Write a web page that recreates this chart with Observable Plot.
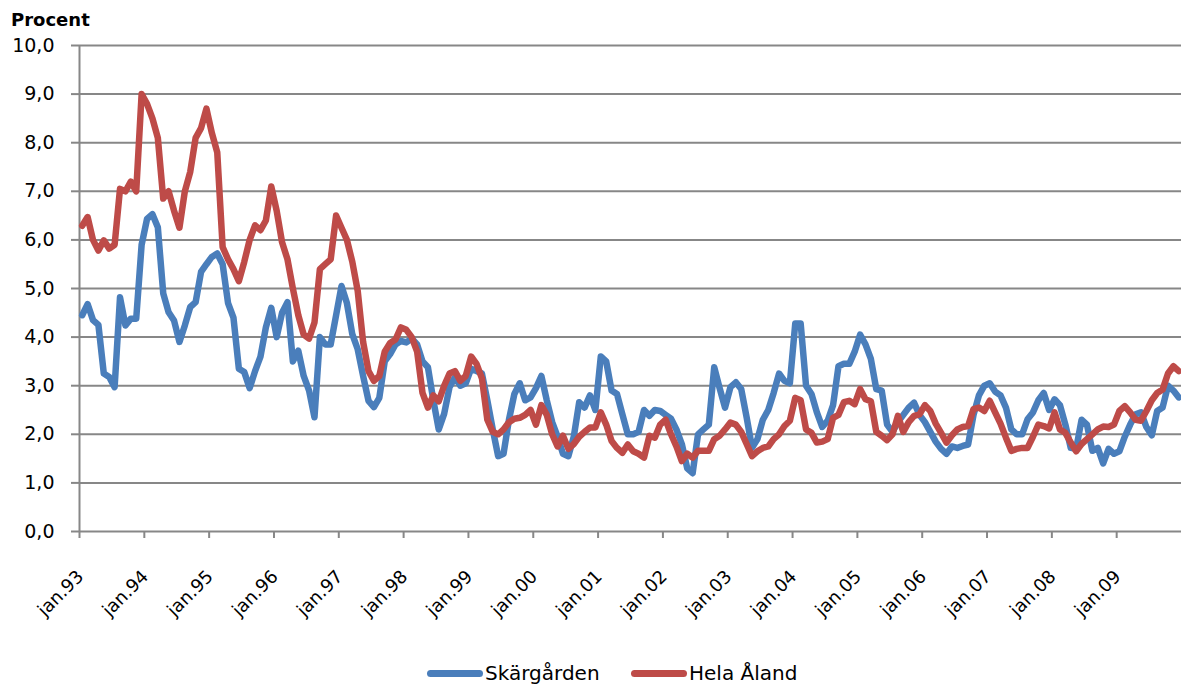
<!DOCTYPE html>
<html><head><meta charset="utf-8">
<script src="https://cdn.jsdelivr.net/npm/d3@7"></script>
<script src="https://cdn.jsdelivr.net/npm/@observablehq/plot@0.6"></script>
<style>
body{margin:0;background:#fff;font-family:"DejaVu Sans",sans-serif;}
#wrap{position:relative;width:1181px;height:688px;overflow:hidden;}
#title{position:absolute;left:11px;top:9px;font-weight:bold;font-size:18px;line-height:22px;color:#000;}
.item{position:absolute;top:661px;display:flex;align-items:center;font-size:20px;line-height:24px;color:#000;white-space:nowrap;}
.sw{display:inline-block;width:56px;height:7px;border-radius:3.5px;margin-right:2px;}
</style></head><body>
<div id="wrap"><div id="chart"></div><div id="title">Procent</div>
<div class="item" style="left:427px"><span class="sw" style="background:#4a7ebb"></span><span>Skärgården</span></div>
<div class="item" style="left:631px"><span class="sw" style="background:#be4b48"></span><span>Hela Åland</span></div>
</div>
<script>
const yearLabels = ["jan.93","jan.94","jan.95","jan.96","jan.97","jan.98","jan.99","jan.00","jan.01","jan.02","jan.03","jan.04","jan.05","jan.06","jan.07","jan.08","jan.09"];
const yTicks = [0,1,2,3,4,5,6,7,8,9,10];
const seriesNames = ["Skärgården","Hela Åland"];
const seriesColors = ["#4a7ebb","#be4b48"];
// Monthly values, Jan 1993 .. Dec 2009
const skargarden = [
4.45,4.68,4.35,4.25,3.25,3.18,2.97,4.82,4.24,4.38,4.38,5.9,
6.43,6.53,6.26,4.9,4.51,4.34,3.9,4.24,4.62,4.72,5.34,5.5,
5.65,5.72,5.5,4.7,4.4,3.35,3.28,2.95,3.3,3.6,4.2,4.6,
4.0,4.5,4.72,3.5,3.72,3.2,2.9,2.35,4.0,3.85,3.85,4.45,
5.05,4.7,4.06,3.75,3.2,2.69,2.56,2.75,3.5,3.65,3.85,3.92,
3.89,3.97,3.85,3.5,3.38,2.7,2.1,2.42,2.97,3.17,3.0,3.05,
3.35,3.3,3.25,2.7,2.1,1.55,1.6,2.3,2.83,3.05,2.7,2.76,
2.95,3.2,2.7,2.25,1.95,1.6,1.55,1.95,2.66,2.55,2.8,2.5,
3.6,3.5,2.9,2.83,2.41,2.0,2.0,2.05,2.5,2.38,2.5,2.48,
2.4,2.32,2.1,1.8,1.3,1.2,2.0,2.1,2.2,3.38,2.95,2.55,
2.97,3.07,2.93,2.35,1.72,1.9,2.3,2.5,2.85,3.25,3.1,3.05,
4.28,4.28,3.0,2.83,2.45,2.15,2.28,2.6,3.4,3.45,3.45,3.7,
4.05,3.85,3.55,2.93,2.9,2.2,2.05,2.25,2.4,2.55,2.65,2.4,
2.25,2.05,1.85,1.7,1.6,1.75,1.72,1.76,1.79,2.4,2.8,3.0,
3.05,2.88,2.8,2.55,2.1,2.0,2.0,2.31,2.45,2.7,2.85,2.5,
2.72,2.6,2.2,1.72,1.7,2.3,2.2,1.66,1.72,1.4,1.7,1.6,
1.65,1.95,2.2,2.41,2.45,2.15,1.98,2.48,2.55,3.0,2.9,2.76
];
const helaAland = [
6.29,6.47,6.0,5.78,5.99,5.82,5.9,7.05,7.0,7.2,7.0,9.0,
8.8,8.5,8.1,6.85,7.0,6.6,6.25,7.0,7.4,8.1,8.3,8.7,
8.2,7.8,5.85,5.6,5.4,5.15,5.55,6.0,6.3,6.2,6.4,7.1,
6.6,5.95,5.6,5.0,4.45,4.05,3.97,4.3,5.4,5.5,5.6,6.5,
6.25,6.0,5.55,4.95,3.9,3.3,3.1,3.2,3.7,3.88,3.95,4.2,
4.15,4.0,3.7,2.85,2.55,2.8,2.68,3.0,3.25,3.3,3.1,3.2,
3.6,3.45,3.15,2.3,2.05,2.0,2.1,2.25,2.32,2.34,2.4,2.5,
2.2,2.6,2.4,2.0,1.75,1.97,1.7,1.8,1.95,2.05,2.14,2.14,
2.45,2.2,1.86,1.72,1.62,1.79,1.65,1.6,1.52,1.97,1.93,2.2,
2.3,2.0,1.75,1.45,1.6,1.52,1.66,1.66,1.66,1.9,1.97,2.1,
2.24,2.2,2.05,1.8,1.55,1.65,1.72,1.75,1.9,2.0,2.17,2.28,
2.75,2.7,2.1,2.03,1.83,1.85,1.9,2.34,2.4,2.66,2.69,2.62,
2.93,2.72,2.68,2.05,1.97,1.88,2.0,2.38,2.05,2.25,2.38,2.41,
2.6,2.48,2.22,2.03,1.83,1.98,2.1,2.15,2.17,2.52,2.55,2.48,
2.69,2.45,2.22,1.93,1.66,1.7,1.72,1.72,1.95,2.2,2.17,2.12,
2.45,2.1,2.03,1.83,1.65,1.8,1.9,2.0,2.1,2.16,2.15,2.2,
2.48,2.58,2.45,2.3,2.28,2.48,2.7,2.85,2.92,3.25,3.4,3.3
];
const n = skargarden.length;
const xTicks = yearLabels.map((_, k) => 12 * k - 0.5);
const gray = "#878787";
const font = '"DejaVu Sans", sans-serif';
const chart = Plot.plot({
  width: 1181, height: 688,
  marginLeft: 79, marginRight: 0, marginTop: 45, marginBottom: 157,
  x: {domain: [-0.5, n - 0.5], axis: null},
  y: {domain: [0, 10], axis: null},
  style: {fontFamily: font, fontSize: "19px", color: "#000", background: "#fff", overflow: "visible"},
  marks: [
    Plot.gridY(yTicks.slice(1), {stroke: gray, strokeOpacity: 1, strokeWidth: 2}),
    Plot.axisY(yTicks, {tickSize: 8, tickPadding: 17, stroke: gray, strokeWidth: 2, fontSize: 19, fill: "#000",
      tickFormat: d => d.toFixed(1).replace(".", ","), label: null}),
    Plot.axisX(xTicks, {tickSize: 7, stroke: gray, strokeWidth: 2, tickFormat: () => "", label: null}),
    Plot.text(xTicks, {x: d => d, text: (d, i) => yearLabels[i], frameAnchor: "bottom", rotate: -45,
      textAnchor: "end", lineAnchor: "middle", dx: 1, dy: 42, fontSize: 18, fill: "#000"}),
    Plot.ruleY([0], {stroke: gray, strokeWidth: 2}),
    Plot.ruleX([-0.5], {stroke: gray, strokeWidth: 2}),
    Plot.lineY(skargarden, {x: (d, i) => i, y: d => d, stroke: seriesColors[0], strokeWidth: 6.5,
      strokeLinejoin: "round", strokeLinecap: "round"}),
    Plot.lineY(helaAland, {x: (d, i) => i, y: d => d, stroke: seriesColors[1], strokeWidth: 6.5,
      strokeLinejoin: "round", strokeLinecap: "round"})
  ]
});
document.getElementById("chart").appendChild(chart);
</script>
</body></html>
